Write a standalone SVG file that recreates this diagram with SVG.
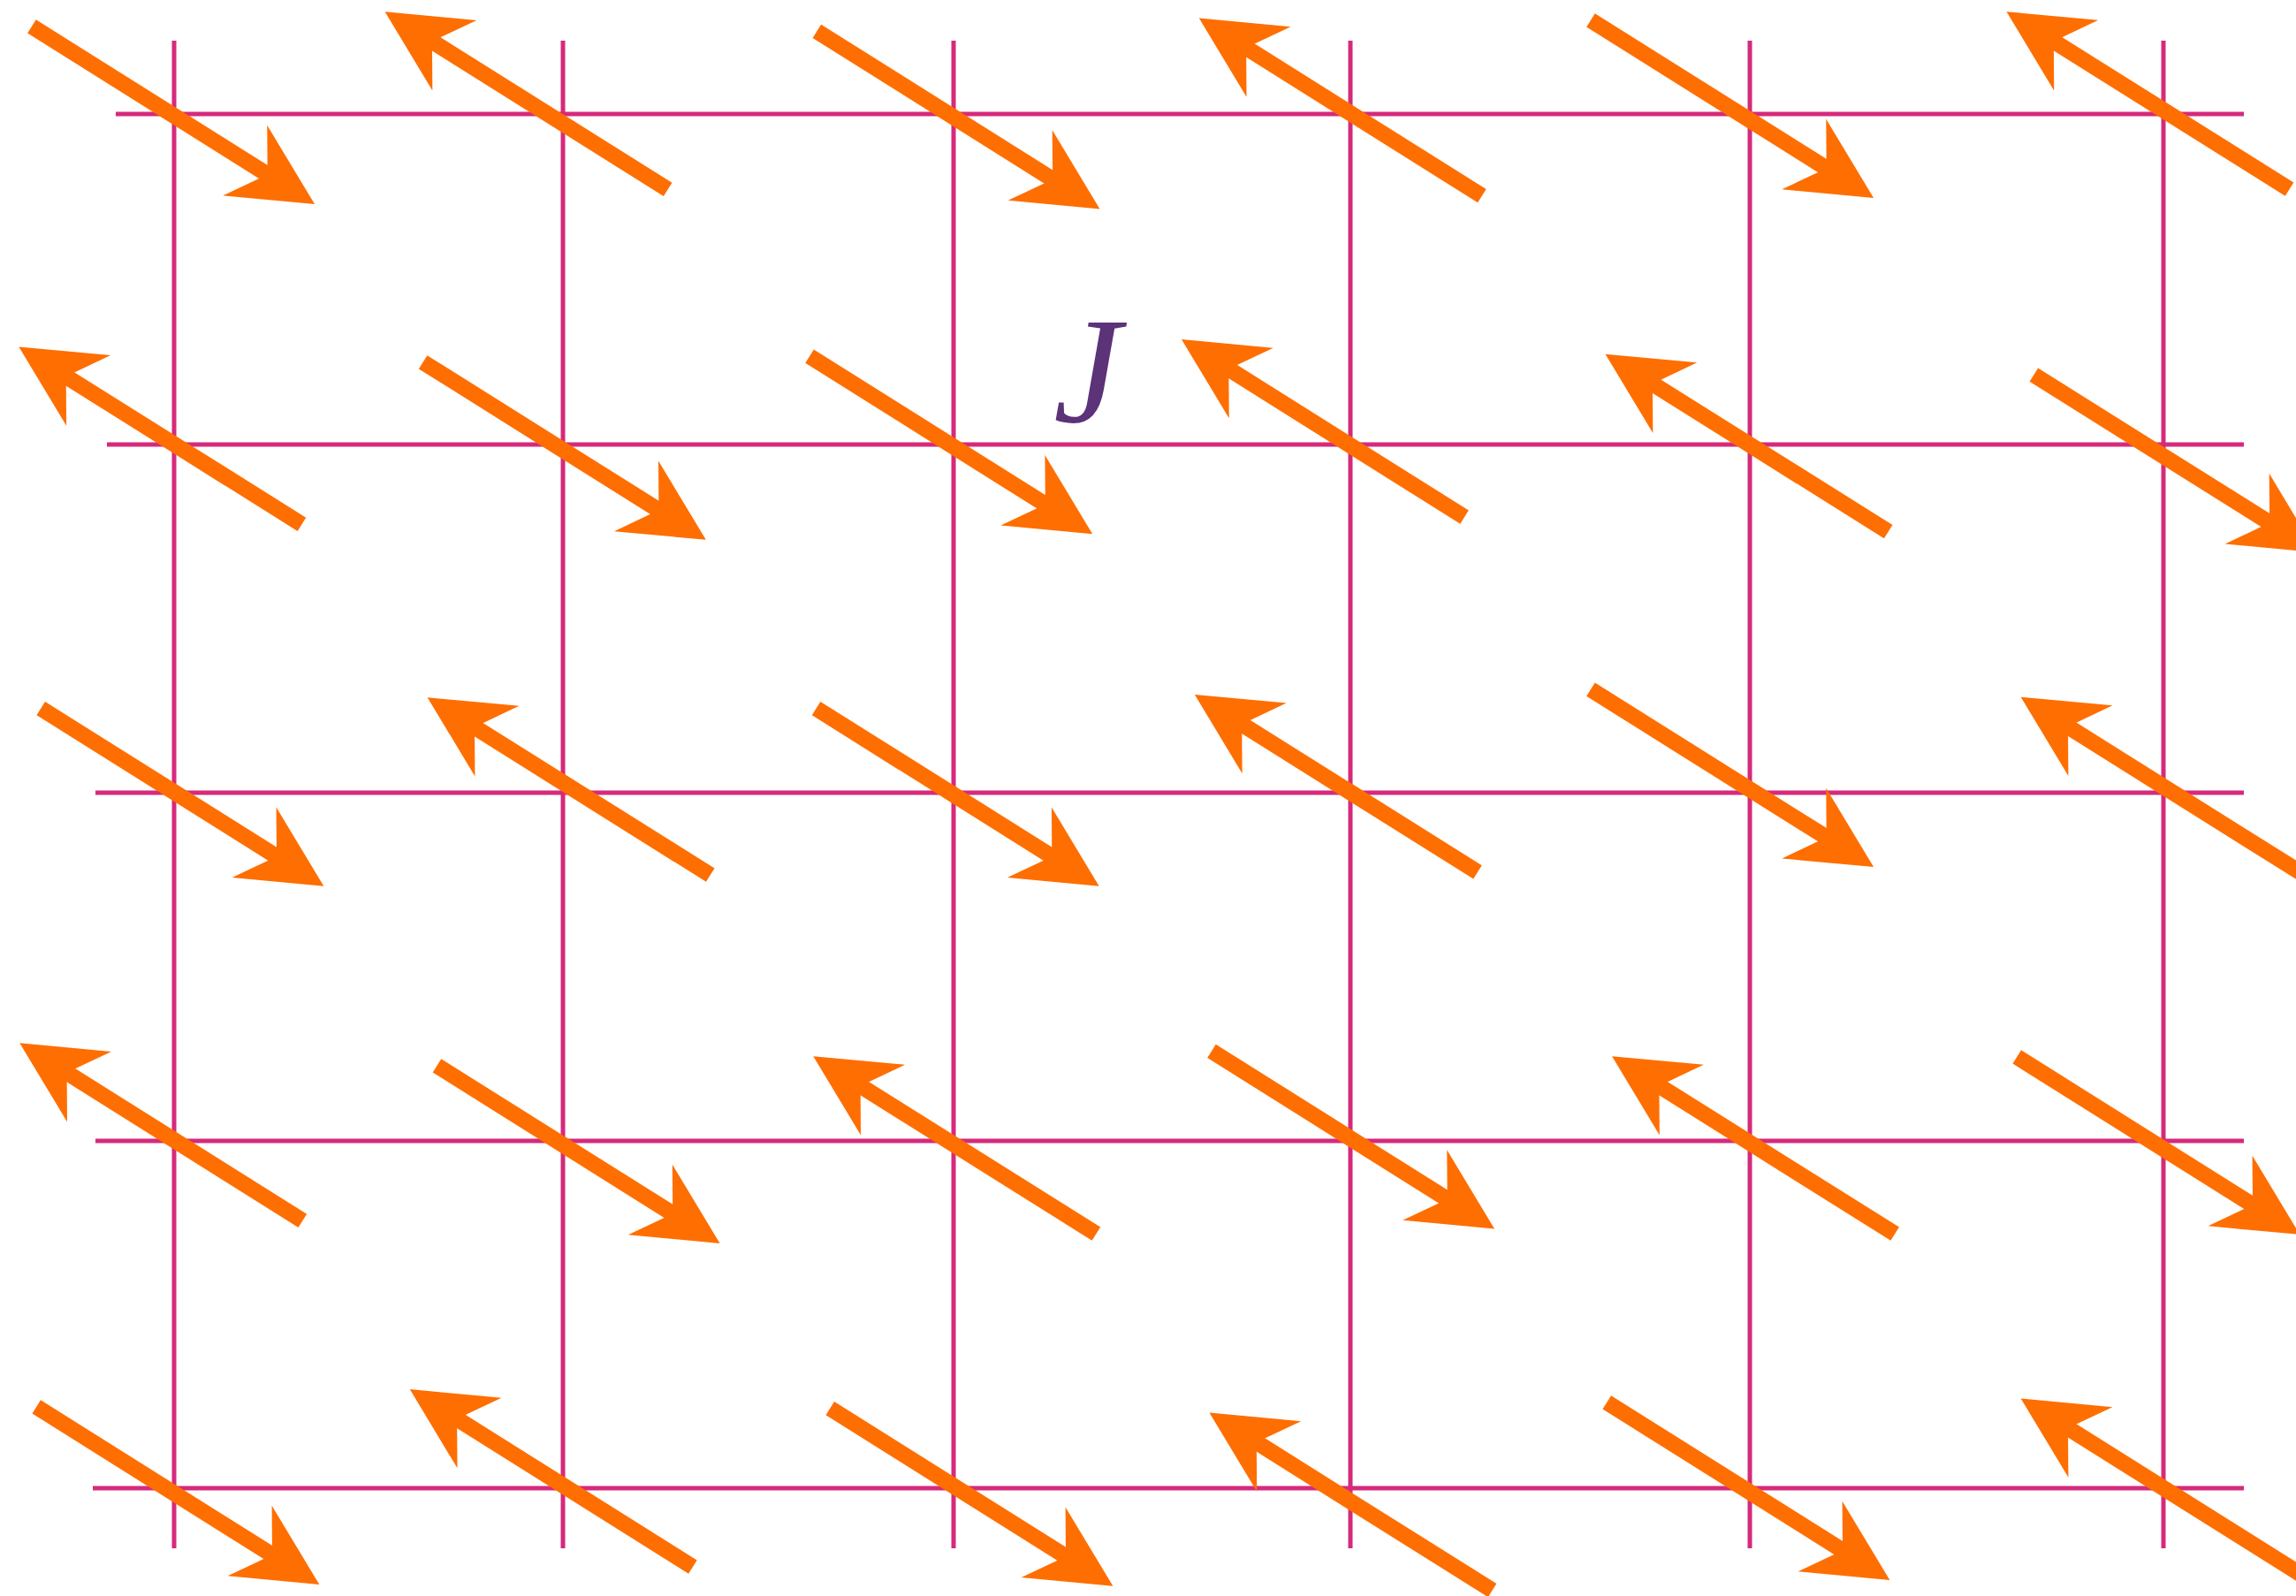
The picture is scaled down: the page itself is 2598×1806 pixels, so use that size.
<svg xmlns="http://www.w3.org/2000/svg" xmlns:xlink="http://www.w3.org/1999/xlink" width="2598" height="1806" viewBox="0 0 2598 1806">
<style>
.grid line{stroke:#d62a7c;stroke-width:5}
.shaft{stroke:#ff6e00;stroke-width:18;fill:none}
.head{fill:#ff6e00}
.lbl{font-family:"Liberation Serif",serif;font-style:italic;font-size:172px;fill:#5c3278}
</style>
<defs>
<g id="spin">
<line class="shaft" x1="-189" y1="0" x2="130" y2="0"/>
<path class="head" d="M189,0 L96,-47 L126,0 L96,47 Z"/>
</g>
</defs>
<rect width="2598" height="1806" fill="#fff"/>
<g id="lattice" class="grid">
<line x1="131" y1="129" x2="2539" y2="129"/>
<line x1="121" y1="503" x2="2539" y2="503"/>
<line x1="108" y1="897" x2="2539" y2="897"/>
<line x1="108" y1="1291" x2="2539" y2="1291"/>
<line x1="105" y1="1684" x2="2539" y2="1684"/>
<line x1="197" y1="46" x2="197" y2="1752"/>
<line x1="637" y1="46" x2="637" y2="1752"/>
<line x1="1079" y1="46" x2="1079" y2="1752"/>
<line x1="1528" y1="46" x2="1528" y2="1752"/>
<line x1="1980" y1="46" x2="1980" y2="1752"/>
<line x1="2448" y1="46" x2="2448" y2="1752"/>
</g>
<g id="spins">
<use id="s1" xlink:href="#spin" transform="translate(196,130.5) rotate(32.13)"/>
<use id="s2" xlink:href="#spin" transform="translate(595.6,113.8) rotate(212.13)"/>
<use id="s3" xlink:href="#spin" transform="translate(1084.4,135.9) rotate(32.13)"/>
<use id="s4" xlink:href="#spin" transform="translate(1516.8,121) rotate(212.13)"/>
<use id="s5" xlink:href="#spin" transform="translate(1960,123.4) rotate(32.13)"/>
<use id="s6" xlink:href="#spin" transform="translate(2430.5,113.7) rotate(212.13)"/>
<use id="s7" xlink:href="#spin" transform="translate(181.4,492.9) rotate(212.13)"/>
<use id="s8" xlink:href="#spin" transform="translate(638.7,510.3) rotate(32.13)"/>
<use id="s9" xlink:href="#spin" transform="translate(1076.1,503.7) rotate(32.13)"/>
<use id="s10" xlink:href="#spin" transform="translate(1497,484.6) rotate(212.13)"/>
<use id="s11" xlink:href="#spin" transform="translate(1976.6,501.2) rotate(212.13)"/>
<use id="s12" xlink:href="#spin" transform="translate(2461.4,524.6) rotate(32.13)"/>
<use id="s13" xlink:href="#spin" transform="translate(206.3,902.2) rotate(32.13)"/>
<use id="s14" xlink:href="#spin" transform="translate(643.7,889.7) rotate(212.13)"/>
<use id="s15" xlink:href="#spin" transform="translate(1083.6,902.2) rotate(32.13)"/>
<use id="s16" xlink:href="#spin" transform="translate(1511.9,886.4) rotate(212.13)"/>
<use id="s17" xlink:href="#spin" transform="translate(1960,880.6) rotate(32.13)"/>
<use id="s18" xlink:href="#spin" transform="translate(2446.7,889.2) rotate(212.13)"/>
<use id="s19" xlink:href="#spin" transform="translate(182.3,1280.8) rotate(212.13)"/>
<use id="s20" xlink:href="#spin" transform="translate(654.5,1306.4) rotate(32.13)"/>
<use id="s21" xlink:href="#spin" transform="translate(1080.3,1295.7) rotate(212.13)"/>
<use id="s22" xlink:href="#spin" transform="translate(1531,1289.9) rotate(32.13)"/>
<use id="s23" xlink:href="#spin" transform="translate(1984.1,1295.7) rotate(212.13)"/>
<use id="s24" xlink:href="#spin" transform="translate(2442.3,1296.5) rotate(32.13)"/>
<use id="s25" xlink:href="#spin" transform="translate(201.3,1692.5) rotate(32.13)"/>
<use id="s26" xlink:href="#spin" transform="translate(623.8,1672.6) rotate(212.13)"/>
<use id="s27" xlink:href="#spin" transform="translate(1099.3,1694.2) rotate(32.13)"/>
<use id="s28" xlink:href="#spin" transform="translate(1528.5,1699.1) rotate(212.13)"/>
<use id="s29" xlink:href="#spin" transform="translate(1978.3,1687.5) rotate(32.13)"/>
<use id="s30" xlink:href="#spin" transform="translate(2446.7,1683) rotate(212.13)"/>
</g>
<g id="label-J">
<text class="lbl" x="1192" y="477">J</text>
</g>
</svg>
